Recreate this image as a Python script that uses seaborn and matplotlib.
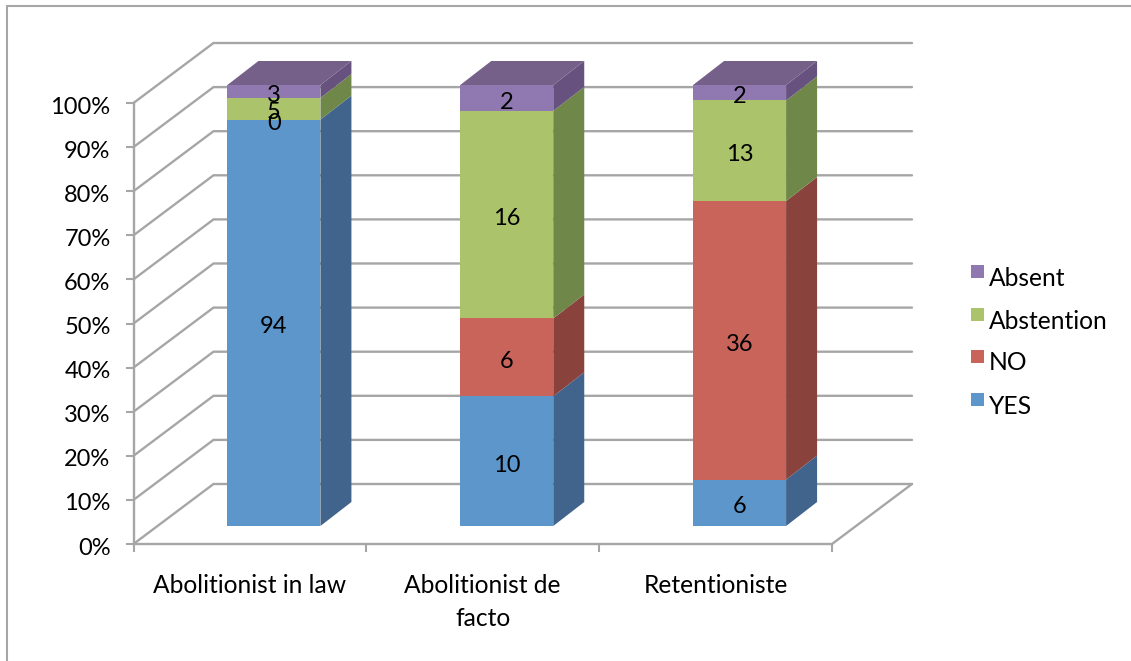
# 3D-look stacked 100% bar chart, seaborn bars with the depth faces added on top
import numpy as np
import pandas as pd
import matplotlib
matplotlib.use('Agg')
import matplotlib.pyplot as plt
from matplotlib.lines import Line2D
from matplotlib.transforms import ScaledTranslation
import seaborn as sns

categories = ['Abolitionist in law', 'Abolitionist de\nfacto', 'Retentioniste']
series_names = ['YES', 'NO', 'Abstention', 'Absent']
yes_votes = [94, 10, 6]
no_votes = [0, 6, 36]
abstention_votes = [5, 16, 13]
absent_votes = [3, 2, 2]

front_colors = ['#5C96CB', '#C9645B', '#ABC36A', '#9079B0']
side_colors = ['#41648D', '#89433C', '#6F8749', '#67517F']
top_colors = ['#41648D', '#89433C', '#6F8749', '#746088']
grid_color = '#A6A6A6'

W, H = 1131, 661

sns.set_theme(style='white')
plt.rcParams['font.family'] = ['Lato', 'DejaVu Sans']

df = pd.DataFrame({'category': categories, 'YES': yes_votes, 'NO': no_votes,
                   'Abstention': abstention_votes, 'Absent': absent_votes})
totals = df[series_names].sum(axis=1)
pct = df[series_names].div(totals, axis=0) * 100


def px_axes(fig, left, top, right, bottom):
    return fig.add_axes([left / W, 1 - bottom / H, (right - left) / W, (bottom - top) / H])


fig = plt.figure(figsize=(W / 100, H / 100), dpi=100)
fig.patch.set_facecolor('white')

# chart frame (left and top edges show in the picture)
fig.add_artist(Line2D([6.5 / W, 6.5 / W], [0, 1 - 6 / H], color=grid_color, lw=1.5))
fig.add_artist(Line2D([6.5 / W, 1], [1 - 6 / H, 1 - 6 / H], color=grid_color, lw=1.5))

# front plane of the box: holds the value axis and the category axis
ax = px_axes(fig, 133.5, 103, 832, 544)
ax.set_xlim(-0.5, 2.5)
ax.set_ylim(0, 100)
ax.patch.set_alpha(0)

# depth of the box and of the bars, in data units
box_dx, box_dy = 80 / (698.5 / 3), 60 / 4.41
bar_dx, bar_dy = 31 / (698.5 / 3), 24 / 4.41

# back wall gridlines, wall edges
for v in range(0, 101, 10):
    ax.plot([-0.5, -0.5 + box_dx, 2.5 + box_dx], [v, v + box_dy, v + box_dy],
            color=grid_color, lw=1.7, clip_on=False, zorder=1, solid_joinstyle='miter')
ax.plot([2.5, 2.5 + box_dx], [0, box_dy], color=grid_color, lw=1.7, clip_on=False, zorder=1)

ax.set_xticks([-0.5, 0.5, 1.5, 2.5])
ax.set_xticklabels([])
ax.set_yticks(range(0, 101, 10))
ax.set_yticklabels([f'{v}%' for v in range(0, 101, 10)], fontsize=17, color='black')
ax.tick_params(axis='both', length=6, width=1.5, color=grid_color, left=True, bottom=True)
ax.tick_params(axis='y', pad=10.5)
shift_down = ScaledTranslation(0, -1.5 / 72, fig.dpi_scale_trans)
for label in ax.get_yticklabels():
    label.set_transform(label.get_transform() + shift_down)
for name in ['top', 'right']:
    ax.spines[name].set_visible(False)
for name in ['left', 'bottom']:
    ax.spines[name].set_color(grid_color)
    ax.spines[name].set_linewidth(1.7)

for i, cat in enumerate(categories):
    ax.text(i, -6.9, cat, ha='center', va='top', fontsize=17.7, color='black', linespacing=1.5)

# bars sit a little behind the front plane, so they get their own shifted axes
bar_ax = px_axes(fig, 133.5 + 24, 103 - 18, 832 + 24, 544 - 18)
bar_ax.patch.set_alpha(0)
bottom = np.zeros(len(categories))
bar_w = 93 / (698.5 / 3)
plot_df = pct.copy()
plot_df['category'] = categories
for k, name in enumerate(series_names):
    sns.barplot(data=plot_df, x='category', y=name, bottom=bottom, width=bar_w,
                color=front_colors[k], saturation=1, ax=bar_ax, linewidth=0, zorder=3)
    for i in range(len(categories)):
        lo, hi = bottom[i], bottom[i] + plot_df[name].iloc[i]
        r = i + bar_w / 2
        bar_ax.fill([r, r + bar_dx, r + bar_dx, r], [lo, lo + bar_dy, hi + bar_dy, hi],
                    color=side_colors[k], lw=0, clip_on=False, zorder=3)
        if k == len(series_names) - 1:
            l = i - bar_w / 2
            bar_ax.fill([l, l + bar_dx, r + bar_dx, r], [hi, hi + bar_dy, hi + bar_dy, hi],
                        color=top_colors[k], lw=0, clip_on=False, zorder=3)
    bottom = bottom + plot_df[name].values

# value labels go on top of everything in the middle of each segment
bottom = np.zeros(len(categories))
for k, name in enumerate(series_names):
    for i in range(len(categories)):
        h = plot_df[name].iloc[i]
        bar_ax.annotate(str(df[name].iloc[i]), (i, bottom[i] + h / 2), xytext=(0, -3),
                        textcoords='offset points', ha='center', va='center',
                        fontsize=17, color='black', zorder=5, annotation_clip=False)
    bottom = bottom + plot_df[name].values

bar_ax.set_xlim(-0.5, 2.5)
bar_ax.set_ylim(0, 100)
bar_ax.axis('off')

# legend, in reverse series order
legend_y = [271.5, 314.5, 356.5, 399.5]
for k, y in zip([3, 2, 1, 0], legend_y):
    fig.patches.append(plt.Rectangle((971 / W, 1 - (y + 6.5) / H), 13 / W, 13 / H,
                                     transform=fig.transFigure, color=front_colors[k], lw=0))
    fig.text(989 / W, 1 - (y + 6.5) / H, series_names[k], fontsize=17.7, color='black',
             ha='left', va='center')

fig.savefig('out.png', dpi=100)
